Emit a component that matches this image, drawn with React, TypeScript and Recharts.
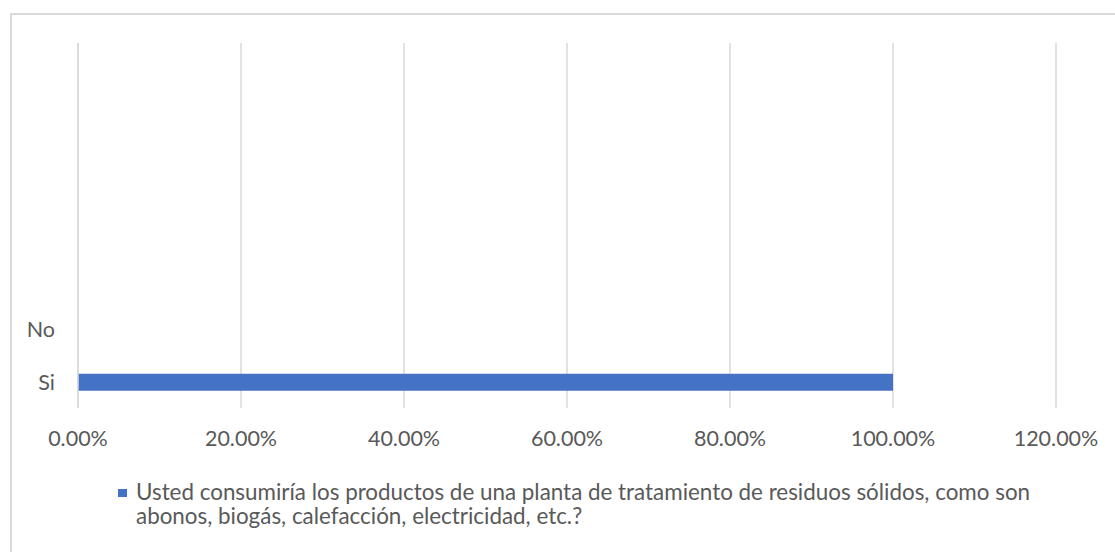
import { Bar, BarChart, CartesianGrid, Legend, XAxis, YAxis } from "recharts";

// category slots from top to bottom, the empty ones are blank rows of the sheet
const categories = ["", "", "", "", "", "No", "Si"];
const shares: (number | null)[] = [null, null, null, null, null, 0, 1.0];
const xTicks = [0, 0.2, 0.4, 0.6, 0.8, 1.0, 1.2];
const edgeTicks = [0, 1, 2, 3, 4, 5, 6, 7];
const seriesName =
  "Usted consumiría los productos de una planta de tratamiento de residuos sólidos, como son abonos, biogás, calefacción, electricidad, etc.?";

const data = categories.map((name, slot) => ({ slot, name, share: shares[slot] }));

const FONT = "Lato, 'Open Sans', sans-serif";
const TEXT = "#595959";
const GRID = "#d9d9d9";
const BLUE = "#4472C4";

const pct = (v: number) => (v * 100).toFixed(2) + "%";

const LegendBox = () => (
  <div style={{ display: "flex", alignItems: "flex-start", fontFamily: FONT, fontSize: 22.4, lineHeight: "24px", color: TEXT }}>
    <span style={{ width: 9, height: 8, background: BLUE, marginTop: 9, marginRight: 9, flexShrink: 0 }} />
    <span>{seriesName}</span>
  </div>
);

export default function App()
{
  return (
    <div style={{ position: "absolute", left: 0, top: 0, width: 1115, height: 552, overflow: "hidden", background: "#fff" }}>
      <div style={{ position: "absolute", left: 10, top: 13, width: 1200, height: 600, border: `2px solid ${GRID}` }} />
      <div style={{ position: "absolute", left: 0, top: 0 }}>
        <BarChart
          width={1115}
          height={552}
          data={data}
          layout="vertical"
          margin={{ top: 43, right: 59, bottom: 114, left: 0 }}
        >
          <CartesianGrid horizontal={false} stroke={GRID} strokeWidth={1.5} yAxisId="cat" />
          <XAxis
            type="number"
            domain={[0, 1.2]}
            ticks={xTicks}
            tickFormatter={pct}
            axisLine={false}
            tickLine={false}
            tickSize={0}
            tickMargin={23}
            height={30}
            tick={{ fill: TEXT, fontSize: 21.5, fontFamily: FONT }}
          />
          {/* tick marks between the bands sit next to the plot, labels outside them */}
          <YAxis
            yAxisId="band"
            type="number"
            domain={[0, 7]}
            ticks={edgeTicks}
            tick={false}
            width={8}
            tickSize={7}
            axisLine={{ stroke: GRID, strokeWidth: 1.5 }}
            tickLine={{ stroke: GRID, strokeWidth: 1.5 }}
          />
          <YAxis
            yAxisId="cat"
            type="category"
            dataKey="slot"
            tickFormatter={(i: number) => categories[i]}
            interval={0}
            width={70}
            axisLine={false}
            tickLine={false}
            tickSize={0}
            tickMargin={15}
            tick={{ fill: TEXT, fontSize: 21.5, fontFamily: FONT }}
          />
          <Bar yAxisId="cat" dataKey="share" name={seriesName} fill={BLUE} barSize={17} isAnimationActive={false} />
          <Legend
            layout="horizontal"
            verticalAlign="middle"
            align="center"
            content={<LegendBox />}
            wrapperStyle={{ left: 118, top: 480, width: 950 }}
          />
        </BarChart>
      </div>
    </div>
  );
}
